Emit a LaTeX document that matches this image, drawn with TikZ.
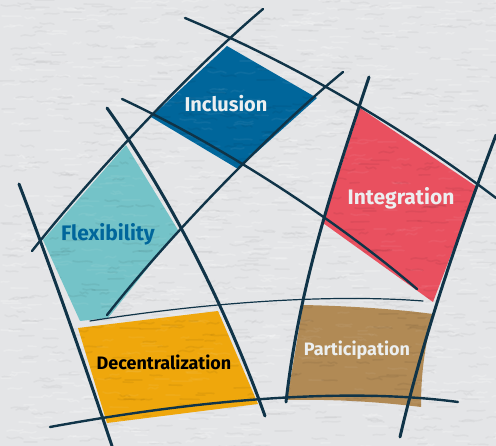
\documentclass[tikz,border=0pt]{standalone}
\usepackage{fontspec}
\setmainfont{Fira Sans}
\definecolor{inkline}{HTML}{103448}
\definecolor{paper}{HTML}{E4E5E7}
\definecolor{cblue}{HTML}{00669B}
\definecolor{cteal}{HTML}{74C3C8}
\definecolor{cyellow}{HTML}{EFA70C}
\definecolor{cbrown}{HTML}{B18A55}
\definecolor{cred}{HTML}{E9505F}
\definecolor{ctext}{HTML}{ECEFF0}
\tikzset{
  heavy/.style={draw=inkline,line width=3pt,line cap=round},
  medium/.style={draw=inkline,line width=2.4pt,line cap=round},
  fine/.style={draw=inkline,line width=1.2pt,line cap=round},
  lab/.style={inner sep=0pt},
  tex/.style={line width=1.6pt,line cap=round},
}
\newcommand{\grain}[3]{%
  \foreach \i in {1,...,#1}{
    \pgfmathsetmacro{\px}{random(0,496)}
    \pgfmathsetmacro{\py}{random(0,446)}
    \pgfmathsetmacro{\dl}{random(8,20)}
    \pgfmathsetmacro{\dh}{rand*5}
    \ifodd\i
      \draw[tex,white,opacity=#2] (\px,\py) .. controls ++(\dl/2,\dh) and ++(-\dl/2,-\dh) .. ++(\dl,0.4*\dh);
    \else
      \draw[tex,black,opacity=#3] (\px,\py) .. controls ++(\dl/2,\dh) and ++(-\dl/2,-\dh) .. ++(\dl,0.4*\dh);
    \fi
  }}
\begin{document}
\begin{tikzpicture}[x=1pt,y=-1pt]
\useasboundingbox (0,0) rectangle (496,446);
\fill[paper] (0,0) rectangle (496,446);
\begin{scope}
\clip (0,0) rectangle (496,446);
\pgfmathsetseed{7}
\grain{1700}{0.2}{0.03}
% colour patches
\fill[cblue] (227,46) -- (317,98) -- (238,169) -- (151,117) -- cycle;
\fill[cteal] (126,145) -- (178,230) -- (108,318) -- (80,321) -- (43,240) -- cycle;
\fill[cyellow] (78,328) -- (218,311) -- (258,404) -- (107,423) -- cycle;
\fill[cbrown] (303,305) .. controls (350,306) and (395,309) .. (433,314)
   .. controls (424,350) and (421,375) .. (421,407)
   .. controls (380,402) and (335,399) .. (287,400) -- cycle;
\fill[cred] (360,108) -- (477,187) -- (433,302) -- (323,223) -- cycle;
\begin{scope}
\clip (227,46) -- (317,98) -- (238,169) -- (151,117) -- cycle
      (126,145) -- (178,230) -- (108,318) -- (80,321) -- (43,240) -- cycle
      (78,328) -- (218,311) -- (258,404) -- (107,423) -- cycle
      (303,305) -- (433,314) -- (421,407) -- (287,400) -- cycle
      (360,108) -- (477,187) -- (433,302) -- (323,223) -- cycle;
\grain{1300}{0.05}{0.05}
\end{scope}
\end{scope}
% lines
\draw[medium] (185,18) .. controls (290,62) and (400,125) .. (496,198);
\draw[medium] (263,9) .. controls (200,62) and (100,165) .. (32,251);
\draw[medium] (343,72) .. controls (270,132) and (170,235) .. (107,315);
\draw[medium] (122,99) .. controls (220,145) and (330,215) .. (417,289);
\draw[heavy] (19,184) .. controls (50,265) and (85,365) .. (112,446);
\draw[heavy] (107,108) .. controls (155,175) and (218,285) .. (265,416);
\draw[fine] (90,321) .. controls (190,305) and (320,293) .. (423,301);
\draw[medium] (50,427) .. controls (170,405) and (330,385) .. (458,402);
\draw[heavy] (369,77) .. controls (335,180) and (300,280) .. (286,402);
\draw[heavy] (496,135) .. controls (460,230) and (425,330) .. (400,437);
% labels
\node[lab,text=ctext,font=\fontsize{20}{20}\selectfont\bfseries] (inc) at (226,104) {Inclusion};
\node[lab,text=cblue,font=\fontsize{21}{21}\selectfont\bfseries] (fle) at (108,234) {Flexibility};
\node[lab,text=black,font=\fontsize{18}{18}\selectfont\bfseries] (dec) at (164,362) {Decentralization};
\node[lab,text=ctext,font=\fontsize{18}{18}\selectfont\bfseries] (par) at (357,350) {Participation};
\node[lab,text=ctext,font=\fontsize{21}{21}\selectfont\bfseries] (int) at (401,198) {Integration};
\end{tikzpicture}
\end{document}
